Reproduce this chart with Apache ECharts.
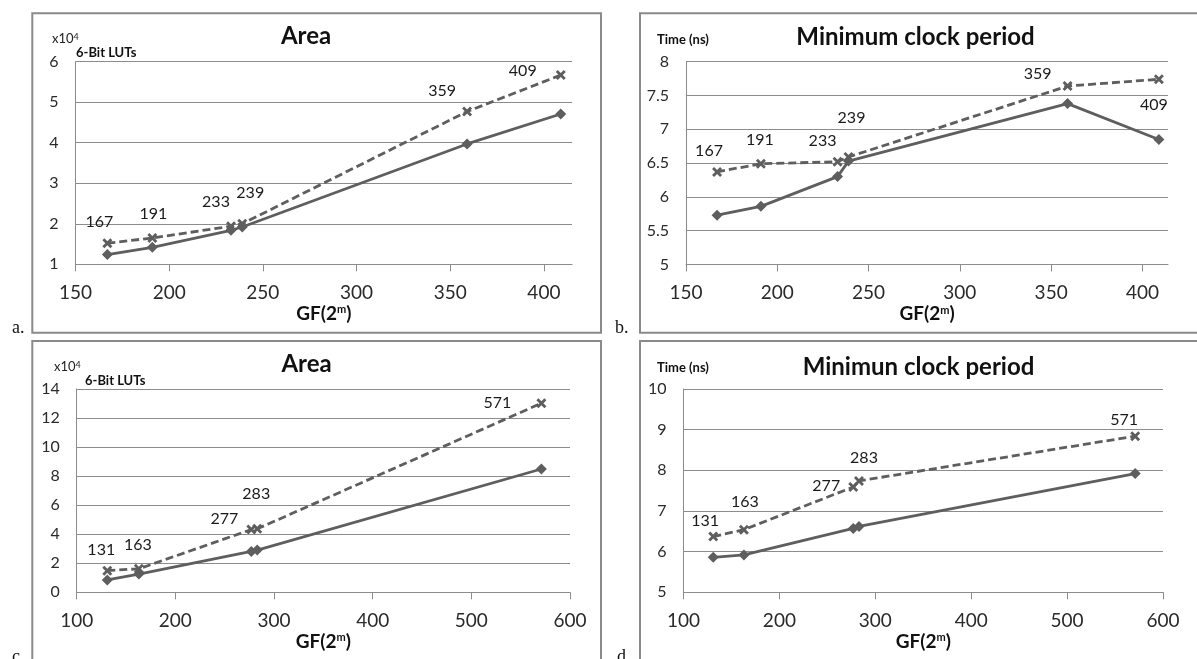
<!DOCTYPE html>
<html>
<head>
<meta charset="utf-8">
<script src="https://cdn.jsdelivr.net/npm/echarts@6/dist/echarts.min.js"></script>
<style>
html,body{margin:0;padding:0;background:#fff;}
#chart{width:1197px;height:659px;}
</style>
</head>
<body>
<div id="chart"></div>
<script>
// ---- Data ----
const aX = [167, 191, 233, 239, 359, 409];
const aSolid = [1.24, 1.42, 1.84, 1.92, 3.97, 4.71];
const aDashed = [1.52, 1.65, 1.94, 2.00, 4.77, 5.67];

const bX = [167, 191, 233, 239, 359, 409];
const bSolid = [5.73, 5.86, 6.30, 6.53, 7.38, 6.85];
const bDashed = [6.37, 6.49, 6.52, 6.59, 7.64, 7.74];

const cX = [131, 163, 277, 283, 571];
const cSolid = [0.85, 1.26, 2.81, 2.91, 8.49];
const cDashed = [1.49, 1.62, 4.32, 4.37, 13.02];

const dX = [131, 163, 277, 283, 571];
const dSolid = [5.86, 5.92, 6.57, 6.62, 7.92];
const dDashed = [6.37, 6.54, 7.59, 7.74, 8.84];

const abXTicks = [150, 200, 250, 300, 350, 400];
const cdXTicks = [100, 200, 300, 400, 500, 600];

const titles = ['Area', 'Minimum clock period', 'Area', 'Minimun clock period'];
const panelLetters = ['a.', 'b.', 'c.', 'd.'];

// ---- Styling (label offsets relative to marker) ----
const aLabelOff = [[-8,-21],[1,-24],[-15,-24],[8,-31],[-25,-21],[-38,-4]];
const bLabelOff = [[-8,-21],[-1,-24],[-15,-21],[3,-39],[-30,-12],[-5,26]];
const cLabelOff = [[-6,-21],[-1,-24],[-27,-11],[-1,-35],[-44,0]];
const dLabelOff = [[-8,-16],[1,-28],[-27,-1],[5,-23],[-11,-16]];

const FONT = 'Lato, "Open Sans", sans-serif';
const LINE = '#5e5e5e';
const GRID = '#8c8c8c';
const XMARK = 'path://M2,0L5,3L8,0L10,2L7,5L10,8L8,10L5,7L2,10L0,8L3,5L0,2Z';

const grids = [
  {left: 75.5, top: 61.7, width: 496.5, height: 202.6},
  {left: 686, top: 61.7, width: 482, height: 202.8},
  {left: 76.7, top: 389, width: 493.3, height: 203.3},
  {left: 683.5, top: 389, width: 479.5, height: 203.3}
];
const xRanges = [[150, 415, abXTicks], [150, 414, abXTicks], [100, 600, cdXTicks], [100, 600, cdXTicks]];
const yRanges = [[1, 6, 1], [5, 8, 0.5], [0, 14, 2], [5, 10, 1]];

function xAxis(i) {
  const r = xRanges[i];
  return {
    type: 'value', gridIndex: i, min: r[0], max: r[1],
    name: 'GF(2{s|m})', nameLocation: 'middle', nameGap: 40,
    nameTextStyle: {
      fontFamily: FONT, fontWeight: 'bold', fontSize: 19, color: '#111',
      rich: {s: {fontFamily: FONT, fontWeight: 'bold', fontSize: 11, color: '#111', verticalAlign: 'top', lineHeight: 10}}
    },
    axisLine: {show: true, lineStyle: {color: GRID, width: 1}},
    axisTick: {show: true, length: 7, customValues: r[2], lineStyle: {color: GRID}},
    axisLabel: {customValues: r[2], fontFamily: FONT, fontSize: 19, color: '#2a2a2a', margin: 19},
    splitLine: {show: false}
  };
}
function yAxis(i) {
  const r = yRanges[i];
  return {
    type: 'value', gridIndex: i, min: r[0], max: r[1], interval: r[2],
    axisLine: {show: true, lineStyle: {color: GRID, width: 1}},
    axisTick: {show: false},
    axisLabel: {fontFamily: FONT, fontSize: 16, color: '#2a2a2a', margin: 17},
    splitLine: {show: true, lineStyle: {color: GRID, width: 1}}
  };
}
function solidSeries(i, xs, ys) {
  return {
    type: 'line', xAxisIndex: i, yAxisIndex: i,
    data: xs.map((x, k) => [x, ys[k]]),
    symbol: 'diamond', symbolSize: 11, showAllSymbol: true,
    lineStyle: {color: LINE, width: 2.8},
    itemStyle: {color: LINE},
    z: 3
  };
}
function dashedSeries(i, xs, ys, offs) {
  return {
    type: 'line', xAxisIndex: i, yAxisIndex: i,
    data: xs.map((x, k) => ({value: [x, ys[k]], label: {offset: offs[k]}})),
    symbol: XMARK, symbolSize: 10, showAllSymbol: true,
    lineStyle: {color: LINE, width: 2.8, type: [8, 4]},
    itemStyle: {color: LINE},
    label: {
      show: true, position: 'inside', fontFamily: FONT, fontSize: 16, color: '#1a1a1a',
      formatter: p => String(p.value[0])
    },
    z: 4
  };
}

const boxes = [
  {x: 32.3, y: 13.3, w: 568.7, h: 319.4},
  {x: 640, y: 13.3, w: 600, h: 319.4},
  {x: 32.3, y: 341, w: 568.7, h: 400},
  {x: 640, y: 341, w: 600, h: 400}
];
const graphic = [];
boxes.forEach(b => graphic.push({
  type: 'rect', shape: {x: b.x, y: b.y, width: b.w, height: b.h},
  style: {fill: 'none', stroke: '#8a8a8a', lineWidth: 2}, silent: true
}));
const titlePos = [[306, 36], [915.5, 37], [306.5, 364.5], [918.5, 367.5]];
titles.forEach((t, i) => graphic.push({
  type: 'text', x: titlePos[i][0], y: titlePos[i][1],
  style: {text: t, fontFamily: FONT, fontWeight: 'bold', fontSize: 24, fill: '#111', align: 'center', verticalAlign: 'middle'}
}));
const letterPos = [[12, 337], [615, 337], [12, 666], [617, 666]];
panelLetters.forEach((t, i) => graphic.push({
  type: 'text', x: letterPos[i][0], y: letterPos[i][1],
  style: {text: t, fontFamily: '"Liberation Serif", serif', fontSize: 18, fill: '#111', align: 'left', verticalAlign: 'bottom'}
}));
// y axis names
const sciPos = [[52, 39], [54, 367]];
const lutPos = [[76, 52.7], [85, 381]];
sciPos.forEach(p => graphic.push({
  type: 'text', x: p[0], y: p[1],
  style: {text: 'x10{s|4}', fontFamily: FONT, fontSize: 13, fill: '#222', align: 'left', verticalAlign: 'middle',
    rich: {s: {fontFamily: FONT, fontSize: 9, fill: '#222', verticalAlign: 'top', lineHeight: 9}}}
}));
lutPos.forEach(p => graphic.push({
  type: 'text', x: p[0], y: p[1],
  style: {text: '6-Bit LUTs', fontFamily: FONT, fontWeight: 'bold', fontSize: 13, fill: '#111', align: 'left', verticalAlign: 'middle'}
}));
[[657, 40], [657, 368.3]].forEach(p => graphic.push({
  type: 'text', x: p[0], y: p[1],
  style: {text: 'Time (ns)', fontFamily: FONT, fontWeight: 'bold', fontSize: 13, fill: '#111', align: 'left', verticalAlign: 'middle'}
}));

const option = {
  animation: false,
  backgroundColor: '#fff',
  grid: grids,
  xAxis: [0, 1, 2, 3].map(xAxis),
  yAxis: [0, 1, 2, 3].map(yAxis),
  series: [
    solidSeries(0, aX, aSolid), dashedSeries(0, aX, aDashed, aLabelOff),
    solidSeries(1, bX, bSolid), dashedSeries(1, bX, bDashed, bLabelOff),
    solidSeries(2, cX, cSolid), dashedSeries(2, cX, cDashed, cLabelOff),
    solidSeries(3, dX, dSolid), dashedSeries(3, dX, dDashed, dLabelOff)
  ],
  graphic: graphic
};
const chart = echarts.init(document.getElementById('chart'), null, {renderer: 'canvas'});
chart.setOption(option);
</script>
</body>
</html>
